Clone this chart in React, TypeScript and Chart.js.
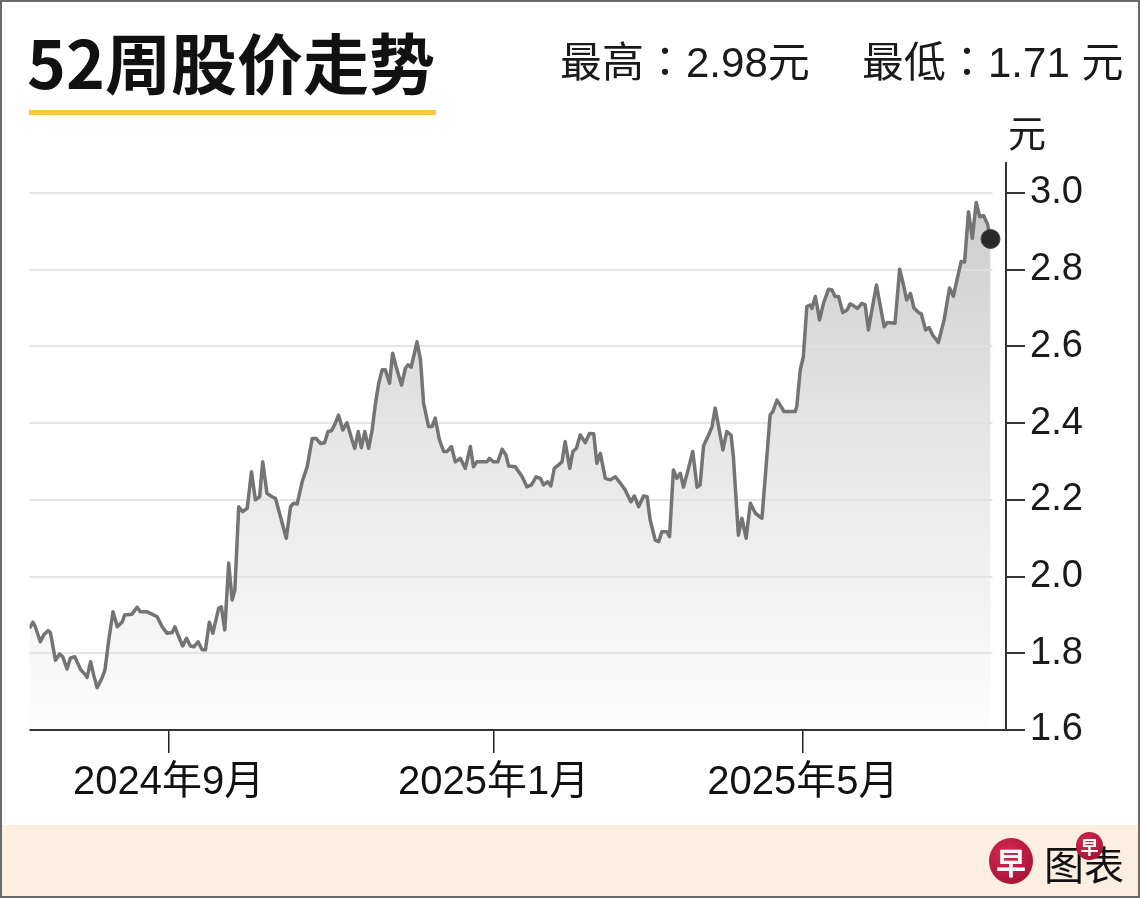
import React, { useEffect, useRef } from "react";
import { Chart, registerables } from "chart.js";

Chart.register(...registerables);

// Trading-day index since the start of the 52-week window, and closing price (元)
const tradingDay: number[] = [
  0.0, 0.9, 1.5, 2.8, 3.7, 4.8, 5.4, 6.7, 7.8, 8.6, 9.7, 10.6, 11.7, 13.2, 14.5, 14.9, 15.8, 16.6, 17.5, 18.8,
  19.5, 20.5, 21.6, 22.7, 24.0, 24.6, 26.5, 27.8, 28.7, 30.4, 32.1, 33.0, 34.3, 35.6, 36.9, 37.6, 38.6, 39.6, 40.6, 41.6,
  42.5, 43.6, 44.6, 45.5, 46.5, 47.4, 48.9, 49.6, 50.5, 51.5, 52.4, 53.1, 54.1, 55.1, 56.3, 57.4, 58.4, 59.5, 60.3, 61.4,
  62.7, 63.6, 64.9, 66.4, 67.5, 68.3, 69.2, 70.5, 71.8, 73.1, 74.1, 75.2, 76.3, 77.2, 78.1, 79.1, 79.9, 81.0, 82.1, 83.4,
  84.1, 85.0, 85.8, 86.7, 87.7, 88.6, 89.4, 90.3, 91.2, 92.0, 93.1, 93.9, 94.8, 96.2, 97.2, 97.9, 98.7, 100.2, 101.1, 101.9,
  103.2, 104.1, 104.9, 106.0, 107.1, 108.0, 109.1, 110.1, 111.4, 112.7, 114.0, 114.8, 115.7, 117.0, 118.3, 118.9, 120.0, 121.1, 122.2, 123.2,
  123.9, 125.6, 127.4, 128.6, 129.8, 131.0, 132.1, 132.9, 134.0, 134.8, 135.7, 136.8, 137.7, 138.5, 139.7, 140.5, 141.4, 142.4, 143.7, 144.8,
  145.9, 146.7, 147.6, 148.9, 150.2, 151.5, 152.8, 154.0, 155.5, 156.4, 157.5, 158.8, 159.7, 160.5, 161.8, 162.7, 163.5, 164.8, 165.5, 166.5,
  167.4, 168.3, 169.1, 170.4, 171.5, 172.6, 173.4, 174.3, 175.6, 176.5, 177.3, 178.2, 179.3, 180.3, 181.4, 182.0, 183.3, 184.2, 185.3, 186.4,
  187.7, 189.4, 190.7, 191.5, 192.2, 193.3, 194.1, 195.1, 196.7, 198.0, 198.4, 199.3, 200.1, 201.0, 201.9, 202.3, 203.2, 204.3, 205.3, 206.6,
  207.5, 208.3, 209.2, 210.3, 211.4, 212.2, 213.2, 214.1, 215.2, 216.1, 216.9, 219.0, 221.0, 221.8, 223.8, 225.0, 226.0, 226.8, 227.8, 228.7,
  229.9, 230.6, 231.7, 232.6, 233.5, 234.2, 235.0, 236.5, 237.9, 238.9, 240.1, 240.9, 241.8, 242.8, 243.8, 244.8, 245.7, 246.7, 247.7, 248.5,
];

const closePrice: number[] = [
  1.865, 1.881, 1.869, 1.83, 1.848, 1.859, 1.854, 1.782, 1.798, 1.791, 1.759, 1.788, 1.791, 1.758, 1.743, 1.737, 1.778, 1.743, 1.71, 1.737,
  1.756, 1.835, 1.908, 1.869, 1.882, 1.9, 1.902, 1.92, 1.908, 1.908, 1.9, 1.895, 1.869, 1.852, 1.854, 1.869, 1.843, 1.819, 1.839, 1.819,
  1.817, 1.83, 1.81, 1.809, 1.881, 1.852, 1.917, 1.921, 1.861, 2.035, 1.939, 1.965, 2.182, 2.169, 2.178, 2.273, 2.2, 2.208, 2.299, 2.217,
  2.208, 2.204, 2.156, 2.1, 2.182, 2.191, 2.189, 2.247, 2.286, 2.36, 2.36, 2.347, 2.349, 2.378, 2.38, 2.4, 2.421, 2.382, 2.401, 2.356,
  2.334, 2.378, 2.336, 2.378, 2.334, 2.382, 2.447, 2.504, 2.539, 2.539, 2.504, 2.582, 2.547, 2.499, 2.543, 2.552, 2.546, 2.612, 2.565, 2.452,
  2.391, 2.391, 2.413, 2.356, 2.326, 2.326, 2.339, 2.299, 2.308, 2.282, 2.339, 2.286, 2.299, 2.299, 2.299, 2.308, 2.299, 2.299, 2.332, 2.317,
  2.288, 2.286, 2.26, 2.234, 2.239, 2.26, 2.256, 2.239, 2.247, 2.236, 2.282, 2.291, 2.299, 2.352, 2.282, 2.326, 2.334, 2.369, 2.349, 2.373,
  2.372, 2.295, 2.321, 2.256, 2.252, 2.26, 2.243, 2.226, 2.195, 2.21, 2.182, 2.21, 2.208, 2.147, 2.095, 2.091, 2.117, 2.117, 2.104, 2.278,
  2.256, 2.269, 2.233, 2.282, 2.326, 2.233, 2.239, 2.341, 2.369, 2.391, 2.439, 2.391, 2.33, 2.378, 2.369, 2.313, 2.108, 2.152, 2.1, 2.191,
  2.165, 2.152, 2.317, 2.421, 2.43, 2.46, 2.447, 2.43, 2.43, 2.43, 2.443, 2.539, 2.573, 2.704, 2.708, 2.699, 2.73, 2.669, 2.712, 2.749,
  2.747, 2.73, 2.73, 2.688, 2.695, 2.711, 2.705, 2.699, 2.712, 2.708, 2.643, 2.76, 2.651, 2.662, 2.66, 2.801, 2.76, 2.721, 2.738, 2.7,
  2.688, 2.685, 2.643, 2.649, 2.63, 2.621, 2.61, 2.669, 2.752, 2.731, 2.786, 2.821, 2.82, 2.951, 2.882, 2.975, 2.938, 2.941, 2.919, 2.88,
];

const monthTickDays: number[] = [36, 120, 200];
const monthTickLabels: string[] = ["2024年9月", "2025年1月", "2025年5月"];

const titleText = "52周股价走势";
const highText = "最高：2.98元";
const lowText = "最低：1.71 元";
const unitText = "元";

const FONT = "'Liberation Sans', 'Noto Sans CJK SC', sans-serif";

export default function App() {
  const canvasRef = useRef<HTMLCanvasElement | null>(null);

  useEffect(() => {
    const canvas = canvasRef.current;
    if (!canvas) return;
    const last = tradingDay.length - 1;

    const customPlugin = {
      id: "customGrid",
      beforeDatasetsDraw(chart: any) {
        const { ctx, scales, chartArea } = chart;
        const x = scales.x;
        const y = scales.y;
        const xEnd = x.getPixelForValue(tradingDay[last]) + 2;
        ctx.save();
        ctx.strokeStyle = "rgba(225,225,225,0.85)";
        ctx.lineWidth = 2;
        y.ticks.forEach((t: any) => {
          if (t.value <= y.min + 1e-6) return;
          const py = Math.round(y.getPixelForValue(t.value));
          ctx.beginPath();
          ctx.moveTo(chartArea.left, py);
          ctx.lineTo(xEnd, py);
          ctx.stroke();
        });
        ctx.restore();
      },
      afterDraw(chart: any) {
        const { ctx, chartArea } = chart;
        ctx.save();
        ctx.strokeStyle = "#333";
        ctx.lineWidth = 2;
        ctx.beginPath();
        ctx.moveTo(chartArea.left, chartArea.bottom);
        ctx.lineTo(chartArea.right + 19, chartArea.bottom);
        ctx.stroke();
        ctx.restore();
      },
    };

    const chart = new Chart(canvas, {
      type: "line",
      data: {
        datasets: [
          {
            data: tradingDay.map((d, i) => ({ x: d, y: closePrice[i] })),
            borderColor: "#747474",
            borderWidth: 3.5,
            borderJoinStyle: "round",
            tension: 0,
            fill: "start",
            backgroundColor: (c: any) => {
              const ch = c.chart;
              const area = ch.chartArea;
              if (!area) return "rgba(220,220,220,0.8)";
              const g = ch.ctx.createLinearGradient(0, area.top + 25, 0, area.bottom);
              g.addColorStop(0, "rgb(204,204,204)");
              g.addColorStop(0.5, "rgb(232,232,232)");
              g.addColorStop(1, "rgb(253,253,253)");
              return g;
            },
            pointRadius: (c: any) => (c.dataIndex === last ? 9.5 : 0),
            pointHoverRadius: (c: any) => (c.dataIndex === last ? 9.5 : 0),
            pointBackgroundColor: "#2a2a2a",
            pointBorderColor: "#444",
            pointBorderWidth: 1,
          } as any,
        ],
      },
      options: {
        animation: false,
        responsive: false,
        maintainAspectRatio: false,
        events: [],
        layout: { padding: { left: 29.5, top: 163, right: 0, bottom: 0 } },
        plugins: {
          legend: { display: false },
          tooltip: { enabled: false },
          filler: { drawTime: "beforeDatasetsDraw" } as any,
        },
        scales: {
          x: {
            type: "linear",
            min: 0,
            max: 252.5,
            afterBuildTicks: (s: any) => {
              s.ticks = monthTickDays.map((v) => ({ value: v }));
            },
            afterFit: (s: any) => {
              s.height = 168;
            },
            ticks: {
              autoSkip: false,
              maxRotation: 0,
              minRotation: 0,
              padding: 6,
              color: "#111",
              font: { size: 40, family: FONT },
              callback: (v: any) => {
                const idx = monthTickDays.indexOf(Number(v));
                return idx >= 0 ? monthTickLabels[idx] : "";
              },
            },
            grid: {
              drawOnChartArea: false,
              drawTicks: true,
              tickLength: 23,
              color: "#222",
              lineWidth: 1.5,
            },
            border: { display: false },
          },
          y: {
            type: "linear",
            position: "right",
            min: 1.6,
            max: 3.078,
            afterFit: (s: any) => {
              s.width = 134;
            },
            ticks: {
              stepSize: 0.2,
              includeBounds: false,
              padding: 5,
              color: "#1a1a1a",
              font: { size: 38, family: FONT },
              callback: (v: any) => Number(v).toFixed(1),
            },
            grid: {
              drawOnChartArea: false,
              drawTicks: true,
              tickLength: 19,
              color: "#333",
              lineWidth: 2,
            },
            border: { display: true, color: "#333", width: 2 },
          },
        },
      } as any,
      plugins: [customPlugin],
    });

    return () => {
      chart.destroy();
    };
  }, []);

  return (
    <div
      style={{
        position: "relative",
        width: 1140,
        height: 898,
        overflow: "hidden",
        background: "#fff",
      }}
    >
      <style>{"body{margin:0;}"}</style>
      <div
        style={{
          position: "absolute",
          left: 0,
          top: 825,
          width: 1140,
          height: 73,
          background: "#fcefe2",
        }}
      />
      <canvas
        ref={canvasRef}
        width={1140}
        height={898}
        style={{ position: "absolute", left: 0, top: 0, width: 1140, height: 898 }}
      />
      <div
        style={{
          position: "absolute",
          left: 27,
          top: 27,
          height: 66,
          lineHeight: "66px",
          fontSize: 66,
          fontWeight: 700,
          color: "#111",
          fontFamily: "'Noto Sans CJK SC', sans-serif",
          whiteSpace: "nowrap",
        }}
      >
        {titleText}
      </div>
      <div
        style={{
          position: "absolute",
          left: 29,
          top: 110,
          width: 407,
          height: 5,
          background: "#f7c744",
        }}
      />
      <div
        style={{
          position: "absolute",
          left: 560,
          top: 42,
          height: 42,
          lineHeight: "42px",
          fontSize: 42,
          color: "#1a1a1a",
          fontFamily: "'Liberation Sans', 'Noto Sans CJK TC', sans-serif",
          whiteSpace: "nowrap",
        }}
      >
        {highText}
      </div>
      <div
        style={{
          position: "absolute",
          left: 862,
          top: 42,
          height: 42,
          lineHeight: "42px",
          fontSize: 42,
          color: "#1a1a1a",
          fontFamily: "'Liberation Sans', 'Noto Sans CJK TC', sans-serif",
          whiteSpace: "nowrap",
        }}
      >
        {lowText}
      </div>
      <div
        style={{
          position: "absolute",
          left: 1008,
          top: 112,
          height: 38,
          lineHeight: "38px",
          fontSize: 38,
          color: "#1a1a1a",
          fontFamily: "'Noto Sans CJK SC', sans-serif",
        }}
      >
        {unitText}
      </div>
      {/* logo */}
      <div
        style={{
          position: "absolute",
          left: 989,
          top: 838,
          width: 44,
          height: 46,
          borderRadius: "50%",
          background: "radial-gradient(circle at 40% 35%, #d8294f, #9a0e33)",
          color: "#fff",
          fontSize: 30,
          fontWeight: 700,
          lineHeight: "46px",
          textAlign: "center",
          fontFamily: "'Noto Sans CJK SC', sans-serif",
        }}
      >
        早
      </div>
      <div
        style={{
          position: "absolute",
          left: 1044,
          top: 843,
          height: 40,
          lineHeight: "40px",
          fontSize: 40,
          color: "#111",
          fontFamily: "'Noto Sans CJK SC', sans-serif",
          whiteSpace: "nowrap",
        }}
      >
        图表
      </div>
      <div
        style={{
          position: "absolute",
          left: 1076,
          top: 832,
          width: 27,
          height: 28,
          borderRadius: "50%",
          background: "radial-gradient(circle at 40% 35%, #d8294f, #9a0e33)",
          color: "#fff",
          fontSize: 18,
          fontWeight: 700,
          lineHeight: "28px",
          textAlign: "center",
          fontFamily: "'Noto Sans CJK SC', sans-serif",
        }}
      >
        早
      </div>
      <div
        style={{
          position: "absolute",
          left: 0,
          top: 0,
          width: 1140,
          height: 898,
          boxSizing: "border-box",
          border: "2px solid #6a6a6a",
          pointerEvents: "none",
        }}
      />
    </div>
  );
}
